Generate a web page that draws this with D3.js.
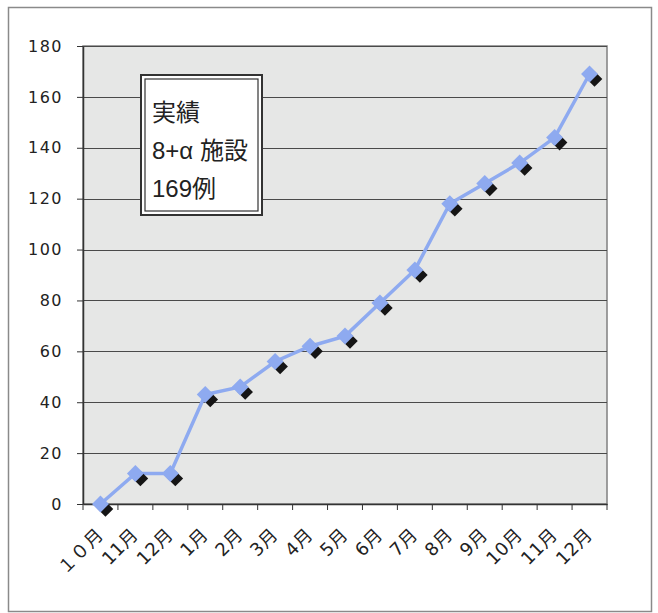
<!DOCTYPE html>
<html>
<head>
<meta charset="utf-8">
<script src="https://cdn.jsdelivr.net/npm/d3@7"></script>
<style>
  body { margin: 0; background: #fff; }
  svg text { font-family: "DejaVu Sans", "Noto Sans CJK JP", sans-serif; fill: #222; }
  .note text { font-family: "Liberation Sans", "Noto Sans CJK JP", sans-serif; }
</style>
</head>
<body>
<div id="chart"></div>
<script>
// month labels (first one uses full-width digits as in the original)
var months = ["１０月", "11月", "12月", "1月", "2月", "3月", "4月", "5月", "6月", "7月", "8月", "9月", "10月", "11月", "12月"];
// cumulative cases
var cases = [0, 12, 12, 43, 46, 56, 62, 66, 79, 92, 118, 126, 134, 144, 169];
var yTicks = [0, 20, 40, 60, 80, 100, 120, 140, 160, 180];
var noteLines = ["実績", "8+α 施設", "169例"];

var W = 658, H = 613;
var margin = {top: 46, right: 51, bottom: 109, left: 83};
var width = W - margin.left - margin.right;
var height = H - margin.top - margin.bottom;

var svg = d3.select("#chart").append("svg")
    .attr("width", W)
    .attr("height", H);

// outer frame
svg.append("rect")
    .attr("x", 8.5).attr("y", 7.5)
    .attr("width", 643).attr("height", 604)
    .attr("fill", "none")
    .attr("stroke", "#8a8a8a")
    .attr("stroke-width", 1.5);

var g = svg.append("g")
    .attr("transform", "translate(" + margin.left + "," + margin.top + ")");

var x = d3.scaleBand().domain(d3.range(months.length)).range([0, width]);
var y = d3.scaleLinear().domain([0, 180]).range([height, 0]);

// plot background
g.append("rect")
    .attr("width", width).attr("height", height)
    .attr("fill", "#e6e7e6")
    .attr("stroke", "#808080")
    .attr("stroke-width", 1.5);

// gridlines
g.selectAll(".grid")
    .data(yTicks.filter(function(d) { return d > 0; }))
    .enter().append("line")
    .attr("x1", 0).attr("x2", width)
    .attr("y1", function(d) { return Math.round(y(d)) + 0.5; })
    .attr("y2", function(d) { return Math.round(y(d)) + 0.5; })
    .attr("stroke", "#4a4a4a")
    .attr("stroke-width", 1);

// y axis
var yAxis = g.append("g")
    .call(d3.axisLeft(y).tickValues(yTicks).tickSize(6).tickPadding(14).tickSizeOuter(0));
yAxis.select(".domain").attr("stroke", "#333").attr("stroke-width", 1.5);
yAxis.selectAll(".tick line").attr("stroke", "#333");
yAxis.selectAll("text")
    .attr("font-size", 16)
    .attr("letter-spacing", 1.5)
    .attr("fill", "#222");

// x axis, ticks at band edges
var xAxis = g.append("g")
    .attr("transform", "translate(0," + height + ")")
    .call(d3.axisBottom(x).tickSize(0).tickFormat(function(i) { return months[i]; }));
xAxis.select(".domain").attr("stroke", "#333").attr("stroke-width", 1.5);
xAxis.selectAll(".tick text")
    .attr("font-size", 18)
    .attr("letter-spacing", 0.5)
    .attr("text-anchor", "end")
    .attr("y", 0)
    .attr("dy", 0)
    .attr("transform", "translate(4,32) rotate(-45)");

g.append("g").selectAll("line")
    .data(d3.range(months.length + 1))
    .enter().append("line")
    .attr("x1", function(i) { return i * x.step(); })
    .attr("x2", function(i) { return i * x.step(); })
    .attr("y1", height).attr("y2", height + 6)
    .attr("stroke", "#333");

// line
var line = d3.line()
    .x(function(d, i) { return x(i) + x.bandwidth() / 2; })
    .y(function(d) { return y(d); });

g.append("path")
    .datum(cases)
    .attr("d", line)
    .attr("fill", "none")
    .attr("stroke", "#8eaaf0")
    .attr("stroke-width", 3.5);

// markers: diamond with a dark shadow
var pts = g.selectAll(".pt")
    .data(cases)
    .enter().append("g")
    .attr("transform", function(d, i) {
        return "translate(" + (x(i) + x.bandwidth() / 2) + "," + y(d) + ")";
    });
pts.append("rect")
    .attr("x", -5.5).attr("y", -5.5).attr("width", 11).attr("height", 11)
    .attr("fill", "#151515")
    .attr("transform", "translate(5,5) rotate(45)");
pts.append("rect")
    .attr("x", -6).attr("y", -6).attr("width", 12).attr("height", 12)
    .attr("fill", "#8eaaf0")
    .attr("transform", "rotate(45)");

// note box
var note = svg.append("g").attr("class", "note");
note.append("rect")
    .attr("x", 141).attr("y", 75).attr("width", 121).attr("height", 140)
    .attr("fill", "#fff")
    .attr("stroke", "#333").attr("stroke-width", 2);
note.append("rect")
    .attr("x", 145).attr("y", 79).attr("width", 113).attr("height", 132)
    .attr("fill", "#fff")
    .attr("stroke", "#333").attr("stroke-width", 1.2);
note.selectAll("text")
    .data(noteLines)
    .enter().append("text")
    .attr("x", 152)
    .attr("y", function(d, i) { return 121 + i * 38; })
    .attr("font-size", 24)
    .text(function(d) { return d; });
</script>
</body>
</html>
